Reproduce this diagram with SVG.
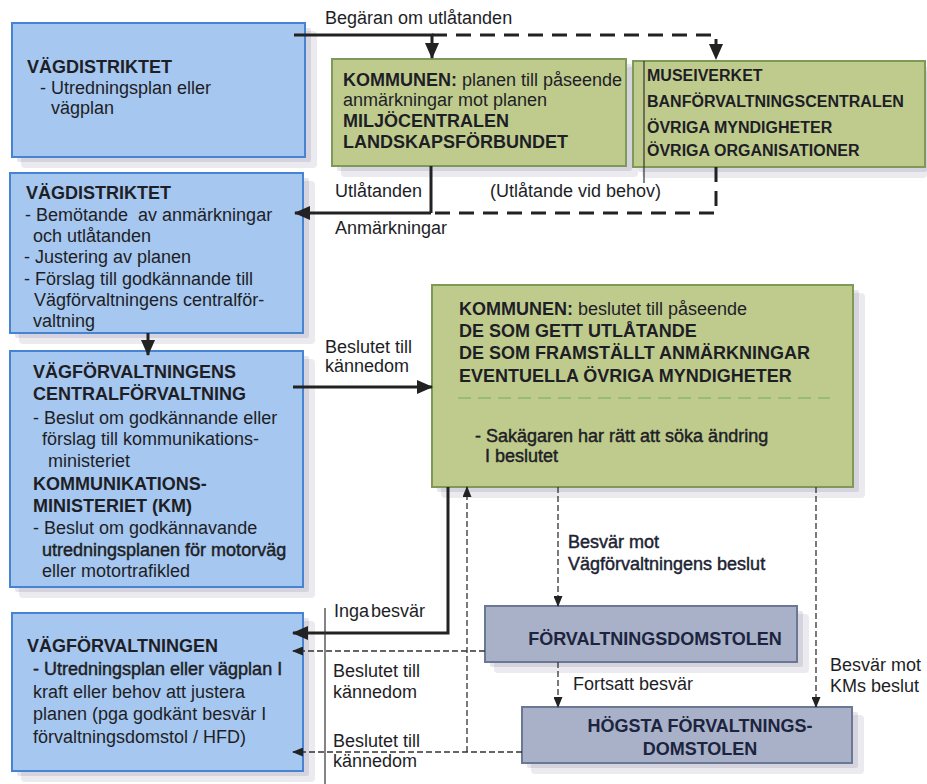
<svg xmlns="http://www.w3.org/2000/svg" width="927" height="784" viewBox="0 0 927 784">
<defs>
<marker id="ah" viewBox="0 0 16 14" refX="15" refY="7" markerWidth="16" markerHeight="14" markerUnits="userSpaceOnUse" orient="auto">
<path d="M0,0 L16,7 L0,14 z" fill="#222"/>
</marker>
<marker id="at" viewBox="0 0 11 9" refX="10" refY="4.5" markerWidth="11" markerHeight="9" markerUnits="userSpaceOnUse" orient="auto">
<path d="M0,0 L11,4.5 L0,9 z" fill="#222"/>
</marker>
</defs>
<style>
text{font-family:"Liberation Sans",Arial,sans-serif;font-size:18px;fill:#1e1e26}
.b{font-weight:bold}
.sb{stroke:#1e1e26;stroke-width:0.45}
.blue{fill:#a6c7ef;stroke:#4684d2;stroke-width:2}
.green{fill:#bfcb8d;stroke:#7f9a56;stroke-width:2}
.gray{fill:#a8b1c7;stroke:#6c7893;stroke-width:2}
.s1{fill:#8d8aa6;opacity:0.18}
.s2{fill:#8d8aa6;opacity:0.22}
.g16{font-size:16px}
.navy{fill:#1c2440}
.thick{fill:none;stroke:#222;stroke-width:3}
.thickd{fill:none;stroke:#222;stroke-width:3;stroke-dasharray:15 9}
.thind{fill:none;stroke:#333;stroke-width:1.3;stroke-dasharray:6 3}
.thin{fill:none;stroke:#333;stroke-width:1.2}
</style>
<rect width="927" height="784" fill="#fff"/>

<g id="vagdistriktet1">
<rect class="s1" x="21" y="31" width="296" height="137" rx="4"/>
<rect class="s2" x="17" y="28" width="294" height="134" rx="2"/>
<rect class="blue" x="12" y="23" width="293" height="134"/>
<text class="b" x="27" y="73">VÄGDISTRIKTET</text>
<text x="40" y="94">- Utredningsplan eller</text>
<text x="51" y="114">vägplan</text>
</g>

<g id="vagdistriktet2">
<rect class="s1" x="19" y="181" width="296" height="163" rx="4"/>
<rect class="s2" x="15" y="178" width="294" height="160" rx="2"/>
<rect class="blue" x="10" y="173" width="293" height="160"/>
<text class="b" x="26" y="199">VÄGDISTRIKTET</text>
<text x="25" y="221" xml:space="preserve">- Bemötande  av anmärkningar</text>
<text x="33" y="242">och utlåtanden</text>
<text x="24" y="263">- Justering av planen</text>
<text x="24" y="285">- Förslag till godkännande till</text>
<text x="34" y="306">Vägförvaltningens centralför-</text>
<text x="33" y="327">valtning</text>
</g>

<g id="centralforvaltning">
<rect class="s1" x="19" y="359" width="296" height="239" rx="4"/>
<rect class="s2" x="15" y="356" width="294" height="236" rx="2"/>
<rect class="blue" x="10" y="351" width="293" height="236"/>
<text class="b" x="33" y="378">VÄGFÖRVALTNINGENS</text>
<text class="b" x="33" y="400">CENTRALFÖRVALTNING</text>
<text x="33" y="424">- Beslut om godkännande eller</text>
<text x="42" y="445">förslag till kommunikations-</text>
<text x="48" y="467">ministeriet</text>
<text class="b" x="33" y="490">KOMMUNIKATIONS-</text>
<text class="b" x="33" y="512">MINISTERIET (KM)</text>
<text x="33" y="534">- Beslut om godkännavande</text>
<text class="sb" x="42" y="556">utredningsplanen för motorväg</text>
<text x="42" y="577">eller motortrafikled</text>
</g>

<g id="vagforvaltningen">
<rect class="s1" x="21" y="621" width="294" height="161" rx="4"/>
<rect class="s2" x="17" y="618" width="292" height="158" rx="2"/>
<rect class="blue" x="12" y="613" width="291" height="158"/>
<text class="b" x="27" y="652">VÄGFÖRVALTNINGEN</text>
<text class="sb" x="33" y="675">- Utredningsplan eller vägplan I</text>
<text x="33" y="698">kraft eller behov att justera</text>
<text x="33" y="720">planen (pga godkänt besvär I</text>
<text x="33" y="743">förvaltningsdomstol / HFD)</text>
</g>

<g id="kommunen1">
<rect class="s1" x="341" y="67" width="297" height="110" rx="4"/>
<rect class="s2" x="337" y="64" width="295" height="107" rx="2"/>
<rect class="green" x="332" y="59" width="294" height="107"/>
<text x="343" y="86"><tspan class="b">KOMMUNEN:</tspan> planen till påseende</text>
<text x="343" y="106">anmärkningar mot planen</text>
<text class="b" x="343" y="127">MILJÖCENTRALEN</text>
<text class="b" x="343" y="148">LANDSKAPSFÖRBUNDET</text>
</g>

<g id="museiverket">
<rect class="s1" x="642" y="69" width="285" height="109" rx="4"/>
<rect class="s2" x="638" y="66" width="289" height="106" rx="2"/>
<rect class="green" x="633" y="61" width="292" height="106"/>
<text class="b g16" x="647" y="81">MUSEIVERKET</text>
<text class="b g16" x="647" y="107">BANFÖRVALTNINGSCENTRALEN</text>
<text class="b g16" x="647" y="133">ÖVRIGA MYNDIGHETER</text>
<text class="b g16" x="647" y="156">ÖVRIGA ORGANISATIONER</text>
</g>

<g id="kommunen2">
<rect class="s1" x="441" y="293" width="424" height="205" rx="4"/>
<rect class="s2" x="437" y="290" width="422" height="202" rx="2"/>
<rect class="green" x="432" y="285" width="421" height="202"/>
<text x="459" y="315"><tspan class="b">KOMMUNEN:</tspan> beslutet till påseende</text>
<text class="b" x="459" y="337">DE SOM GETT UTLÅTANDE</text>
<text class="b" x="459" y="359">DE SOM FRAMSTÄLLT ANMÄRKNINGAR</text>
<text class="b" x="459" y="382">EVENTUELLA ÖVRIGA MYNDIGHETER</text>
<line x1="458" y1="398" x2="830" y2="398" stroke="#8cb868" stroke-width="1.6" stroke-dasharray="13 7"/>
<text class="sb" x="475" y="442">- Sakägaren har rätt att söka ändring</text>
<text class="sb" x="485" y="462">I beslutet</text>
</g>

<g id="forvaltningsdomstolen">
<rect class="s1" x="494" y="614" width="315" height="59" rx="4"/>
<rect class="s2" x="490" y="611" width="313" height="56" rx="2"/>
<rect class="gray" x="485" y="606" width="312" height="56"/>
<text class="b navy" x="655" y="645" text-anchor="middle">FÖRVALTNINGSDOMSTOLEN</text>
</g>

<g id="hogsta">
<rect class="s1" x="531" y="715" width="333" height="59" rx="4"/>
<rect class="s2" x="527" y="712" width="331" height="56" rx="2"/>
<rect class="gray" x="522" y="707" width="330" height="56"/>
<text class="b navy" x="700" y="732" text-anchor="middle">HÖGSTA FÖRVALTNINGS-</text>
<text class="b navy" x="700" y="755" text-anchor="middle">DOMSTOLEN</text>
</g>

<g id="connectors">
<path class="thick" d="M294,35 H432 V58" marker-end="url(#ah)"/>
<path class="thickd" d="M432,35 H716 V59" marker-end="url(#ah)"/>
<path class="thick" d="M431,166 V213"/>
<path class="thick" d="M431,213 H295" marker-end="url(#ah)"/>
<path class="thickd" d="M716,167 V213 H431"/>
<path class="thick" d="M148,333 V355" marker-end="url(#ah)"/>
<path class="thick" d="M293,387 H432" marker-end="url(#ah)"/>
<path class="thick" d="M448,487 V633 H293" marker-end="url(#ah)"/>
<path class="thind" d="M485,651 H293" marker-end="url(#at)"/>
<path class="thind" d="M522,752 H293" marker-end="url(#at)"/>
<path class="thind" d="M467,752 V487" marker-end="url(#at)"/>
<path class="thind" d="M558,487 V606" marker-end="url(#at)"/>
<path class="thind" d="M558,662 V707" marker-end="url(#at)"/>
<path class="thind" d="M816,487 V707" marker-end="url(#at)"/>
<line class="thin" x1="644" y1="61" x2="644" y2="183"/>
<line class="thin" x1="325" y1="608" x2="325" y2="784"/>
<text x="325" y="24">Begäran om utlåtanden</text>
<text x="335" y="197">Utlåtanden</text>
<text x="335" y="234">Anmärkningar</text>
<text x="490" y="197">(Utlåtande vid behov)</text>
<text x="325" y="353">Beslutet till</text>
<text x="325" y="372">kännedom</text>
<text class="sb navy" x="568" y="548">Besvär mot</text>
<text class="sb navy" x="568" y="570">Vägförvaltningens beslut</text>
<text x="334" y="617" word-spacing="-3">Inga besvär</text>
<text x="333" y="677">Beslutet till</text>
<text x="333" y="698">kännedom</text>
<text x="333" y="747">Beslutet till</text>
<text x="333" y="767">kännedom</text>
<text x="573" y="690">Fortsatt besvär</text>
<text x="830" y="671">Besvär mot</text>
<text x="830" y="692">KMs beslut</text>
</g>
</svg>
